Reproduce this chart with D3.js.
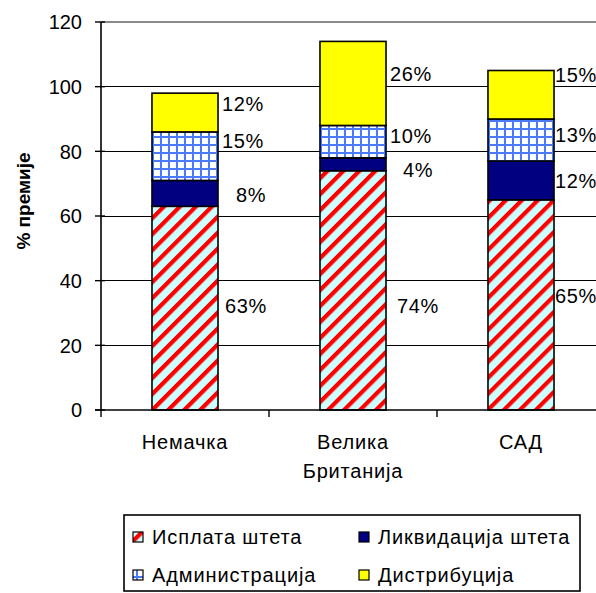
<!DOCTYPE html>
<html>
<head>
<meta charset="utf-8">
<script src="https://cdn.jsdelivr.net/npm/d3@7/dist/d3.min.js"></script>
<style>
  html, body { margin: 0; padding: 0; background: #fff; }
  svg { display: block; }
  text { font-family: "Liberation Sans", Arial, sans-serif; fill: #000; }
</style>
</head>
<body>
<svg id="chart" width="596" height="593"></svg>
<script>
// Cost structure as a share of premium, by country
const categories = ["Немачка", "Велика Британија", "САД"];
const seriesNames = ["Исплата штета", "Ликвидација штета", "Администрација", "Дистрибуција"];
const isplata = [63, 74, 65];
const likvidacija = [8, 4, 12];
const administracija = [15, 10, 13];
const distribucija = [12, 26, 15];
const yTicks = [0, 20, 40, 60, 80, 100, 120];

// Label offsets (px) from the right edge / middle of each segment: [country][series] -> [dx, dy]
const labelNudge = [
  [[7, -2], [18, 1.5], [4, -15], [4, -8.5]],
  [[11, 15], [17, 6], [4, -6], [4, -10]],
  [[1, -9], [1, 0], [1, -5], [1, -20]]
];

const rows = categories.map((c, i) => ({
  category: c,
  s0: isplata[i], s1: likvidacija[i], s2: administracija[i], s3: distribucija[i]
}));
const keys = ["s0", "s1", "s2", "s3"];
const stacked = d3.stack().keys(keys)(rows);

const svg = d3.select("#chart");
const W = 596;
const plotLeft = 101, plotTop = 22, plotBottom = 410;
const fs = 20;

const x = d3.scaleBand().domain(categories)
  .range([plotLeft, plotLeft + 504])
  .paddingInner(0.607).paddingOuter(0.3035);
const y = d3.scaleLinear().domain([0, 120]).range([plotBottom, plotTop]);

// Fill patterns
const defs = svg.append("defs");
const stripe = defs.append("pattern").attr("id", "pStripe")
  .attr("patternUnits", "userSpaceOnUse")
  .attr("width", 11.3).attr("height", 11.3)
  .attr("patternTransform", "rotate(45)");
stripe.append("rect").attr("width", 11.3).attr("height", 11.3).attr("fill", "#ccffff");
stripe.append("rect").attr("width", 4.2).attr("height", 11.3).attr("fill", "#ff0000");

const grid = defs.append("pattern").attr("id", "pGrid")
  .attr("patternUnits", "userSpaceOnUse")
  .attr("width", 8).attr("height", 8);
grid.append("rect").attr("width", 8).attr("height", 8).attr("fill", "#ffffff");
grid.append("rect").attr("width", 2).attr("height", 8).attr("fill", "#4a7bff");
grid.append("rect").attr("width", 8).attr("height", 2).attr("fill", "#4a7bff");

const fills = ["url(#pStripe)", "#000080", "url(#pGrid)", "#ffff00"];

// Gridlines
svg.append("g").selectAll("line")
  .data(yTicks.filter(t => t > 0))
  .join("line")
  .attr("x1", plotLeft).attr("x2", W)
  .attr("y1", d => y(d)).attr("y2", d => y(d))
  .attr("stroke", d => d === 120 ? "#8a8a8a" : "#000")
  .attr("stroke-width", d => d === 120 ? 1.6 : 1)
  .attr("shape-rendering", "crispEdges");

// Stacked bars
svg.append("g").selectAll("g")
  .data(stacked)
  .join("g")
  .attr("fill", (d, i) => fills[i])
  .selectAll("rect")
  .data(d => d)
  .join("rect")
  .attr("x", d => x(d.data.category))
  .attr("width", x.bandwidth())
  .attr("y", d => y(d[1]))
  .attr("height", d => y(d[0]) - y(d[1]))
  .attr("stroke", "#000")
  .attr("stroke-width", 1.6);

// Value labels
stacked.forEach((layer, si) => {
  layer.forEach((d, ci) => {
    const [dx, dy] = labelNudge[ci][si];
    const val = d[1] - d[0];
    svg.append("text")
      .attr("x", x(d.data.category) + x.bandwidth() + dx)
      .attr("y", y((d[0] + d[1]) / 2) + dy)
      .attr("dy", "0.36em")
      .attr("font-size", fs)
      .attr("letter-spacing", 0.6)
      .text(val + "%");
  });
});

// Y axis
const yAxis = svg.append("g");
yAxis.append("line")
  .attr("x1", plotLeft).attr("x2", plotLeft)
  .attr("y1", plotTop).attr("y2", plotBottom)
  .attr("stroke", "#000").attr("stroke-width", 1.6);
yAxis.selectAll("line.tick").data(yTicks).join("line").attr("class", "tick")
  .attr("x1", plotLeft - 6).attr("x2", plotLeft + 4)
  .attr("y1", d => y(d)).attr("y2", d => y(d))
  .attr("stroke", "#000").attr("stroke-width", 1.4);
yAxis.selectAll("text").data(yTicks).join("text")
  .attr("x", 82).attr("y", d => y(d)).attr("dy", "0.36em")
  .attr("text-anchor", "end").attr("font-size", fs)
  .text(d => d);

// X axis
const xAxis = svg.append("g");
xAxis.append("line")
  .attr("x1", plotLeft - 6).attr("x2", W)
  .attr("y1", plotBottom).attr("y2", plotBottom)
  .attr("stroke", "#000").attr("stroke-width", 1.6);
const bounds = categories.map(c => x(c) - x.step() * x.paddingOuter());
xAxis.selectAll("line.tick").data(bounds).join("line").attr("class", "tick")
  .attr("x1", d => d).attr("x2", d => d)
  .attr("y1", plotBottom).attr("y2", plotBottom + 7)
  .attr("stroke", "#000").attr("stroke-width", 1.4);
categories.forEach(c => {
  const lines = c.split(" ");
  const t = svg.append("text")
    .attr("x", x(c) + x.bandwidth() / 2)
    .attr("y", 449)
    .attr("text-anchor", "middle")
    .attr("font-size", fs)
    .attr("letter-spacing", 0.8);
  lines.forEach((ln, k) => {
    t.append("tspan").attr("x", x(c) + x.bandwidth() / 2)
      .attr("dy", k === 0 ? 0 : 29).text(ln);
  });
});

// Y axis title
svg.append("text")
  .attr("transform", "translate(30,201) rotate(-90)")
  .attr("text-anchor", "middle")
  .attr("font-size", 19)
  .attr("font-weight", "bold")
  .text("% премије");

// Legend
const lg = svg.append("g");
lg.append("rect")
  .attr("x", 124).attr("y", 515).attr("width", 456).attr("height", 76)
  .attr("fill", "#fff").attr("stroke", "#000").attr("stroke-width", 1.6);
const legendPos = [[133, 537], [359, 537], [133, 575], [359, 575]];
seriesNames.forEach((name, i) => {
  const [lx, ly] = legendPos[i];
  lg.append("rect")
    .attr("x", lx).attr("y", ly - 5).attr("width", 10).attr("height", 10)
    .attr("fill", fills[i]).attr("stroke", "#000").attr("stroke-width", 1.2);
  lg.append("text")
    .attr("x", lx + 19).attr("y", ly).attr("dy", "0.36em")
    .attr("font-size", fs).attr("letter-spacing", 0.9)
    .text(name);
});
</script>
</body>
</html>
